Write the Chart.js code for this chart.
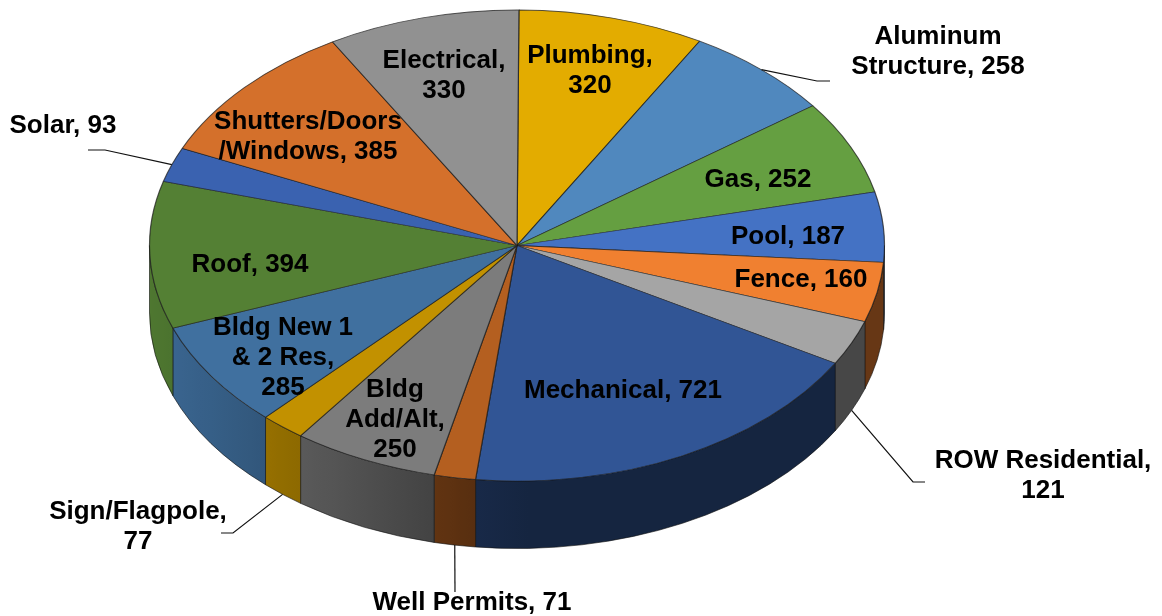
<!DOCTYPE html>
<html>
<head>
<meta charset="utf-8">
<style>html,body{margin:0;padding:0;background:#fff}canvas{display:block}</style>
<script src="https://cdn.jsdelivr.net/npm/chart.js@4/dist/chart.umd.min.js"></script>
</head>
<body>
<canvas id="c" width="1162" height="616"></canvas>
<script>
const categories = ['Plumbing','Aluminum Structure','Gas','Pool','Fence','ROW Residential','Mechanical','Well Permits','Bldg Add/Alt','Sign/Flagpole','Bldg New 1 & 2 Res','Roof','Solar','Shutters/Doors /Windows','Electrical'];
const values = [320,258,252,187,160,121,721,71,250,77,285,394,93,385,330];
const sliceColors = ['#E3AC00','#5088BE','#659F41','#4472C4','#F08030','#A5A5A5','#315595','#B45F20','#7C7C7C','#C29100','#40709F','#548034','#3A62B0','#D4702B','#919191'];
const labelTemplates = ['Plumbing,|{v}','Aluminum|Structure, {v}','Gas, {v}','Pool, {v}','Fence, {v}','ROW Residential,|{v}','Mechanical, {v}','Well Permits, {v}','Bldg|Add/Alt,|{v}','Sign/Flagpole,|{v}','Bldg New 1|& 2 Res,|{v}','Roof, {v}','Solar, {v}','Shutters/Doors|/Windows, {v}','Electrical,|{v}'];
const labelX = [590,938,758,788,801,1043,623,472,395,138,283,250,63,308,444];
const labelY = [56,37,180,237,280,461,391,603,390,512,328,265,126,122,61];
// elbow points of the leader lines, by slice index
const leaderElbows = {1:[[817,81],[830,81]],5:[[913,482],[925,482]],7:[[455,592]],9:[[233,533],[221,533]],12:[[105,150],[88,150]]};
const leaderOnWall = {5:true,7:true,9:true};

const RX = 367.5, RY = 235.5, DEPTH = 67.5, FONT_PX = 26, LINE_H = 30;

function shade(hex, f){
  const n = parseInt(hex.slice(1),16);
  const c = [n>>16&255,n>>8&255,n&255].map(v=>Math.round(v*f));
  return `rgb(${c[0]},${c[1]},${c[2]})`;
}
function wallLight(theta){ return 0.43 + 0.5*Math.max(0,-Math.cos(theta)); }

const pie3d = {
  id:'pie3d',
  beforeDatasetsDraw(chart){
    const ctx = chart.ctx, els = chart.getDatasetMeta(0).data, e0 = els[0];
    const cx = e0.x, cy = e0.y;
    els.forEach((el,i)=>{
      const a = Math.max(el.startAngle,0), b = Math.min(el.endAngle,Math.PI);
      if (b <= a) return;
      const xa = cx+RX*Math.cos(a), xb = cx+RX*Math.cos(b);
      const g = ctx.createLinearGradient(Math.min(xa,xb),0,Math.max(xa,xb),0);
      const steps = 8;
      for(let s=0;s<=steps;s++){
        const t = a+(b-a)*s/steps;
        const pos = Math.abs(xb-xa)<0.01?0:(cx+RX*Math.cos(t)-Math.min(xa,xb))/Math.abs(xb-xa);
        g.addColorStop(Math.min(1,Math.max(0,pos)),shade(sliceColors[i],wallLight(t)));
      }
      ctx.save();
      ctx.beginPath();
      ctx.ellipse(cx,cy,RX,RY,0,a,b,false);
      ctx.ellipse(cx,cy+DEPTH,RX,RY,0,b,a,true);
      ctx.closePath();
      ctx.fillStyle = g; ctx.fill();
      ctx.strokeStyle = 'rgba(15,15,15,.75)'; ctx.lineWidth = 0.8; ctx.stroke();
      ctx.restore();
    });
    ctx.save();
    ctx.translate(cx,cy);
    ctx.scale(RX/e0.outerRadius,RY/e0.outerRadius);
    ctx.translate(-cx,-cy);
  },
  afterDatasetsDraw(chart){ chart.ctx.restore(); },
  afterDraw(chart){
    const ctx = chart.ctx, els = chart.getDatasetMeta(0).data;
    ctx.save();
    // leader lines start at each slice's mid-angle on the rim
    ctx.strokeStyle = '#111'; ctx.lineWidth = 1.2;
    Object.keys(leaderElbows).forEach(k=>{
      const el = els[k], mid = (el.startAngle+el.endAngle)/2;
      const sx = el.x+RX*Math.cos(mid), sy = el.y+RY*Math.sin(mid)+(leaderOnWall[k]?DEPTH:0);
      ctx.beginPath(); ctx.moveTo(sx,sy);
      leaderElbows[k].forEach(p=>ctx.lineTo(p[0],p[1]));
      ctx.stroke();
    });
    ctx.fillStyle = '#000';
    ctx.font = `bold ${FONT_PX}px "Liberation Sans", Arial, sans-serif`;
    ctx.textAlign = 'center'; ctx.textBaseline = 'middle';
    labelTemplates.forEach((t,i)=>{
      t.replace('{v}',values[i]).split('|').forEach((line,j)=>{
        ctx.fillText(line,labelX[i],labelY[i]+j*LINE_H);
      });
    });
    ctx.restore();
  }
};

new Chart(document.getElementById('c'),{
  type:'pie',
  data:{labels:categories,datasets:[{data:values,backgroundColor:sliceColors,borderColor:'rgba(25,25,25,.72)',borderWidth:0.8,hoverOffset:0}]},
  options:{
    responsive:false,animation:false,rotation:0.3,
    layout:{padding:{left:0,right:128,top:0,bottom:125}},
    plugins:{legend:{display:false},tooltip:{enabled:false}}
  },
  plugins:[pie3d]
});
</script>
</body>
</html>
